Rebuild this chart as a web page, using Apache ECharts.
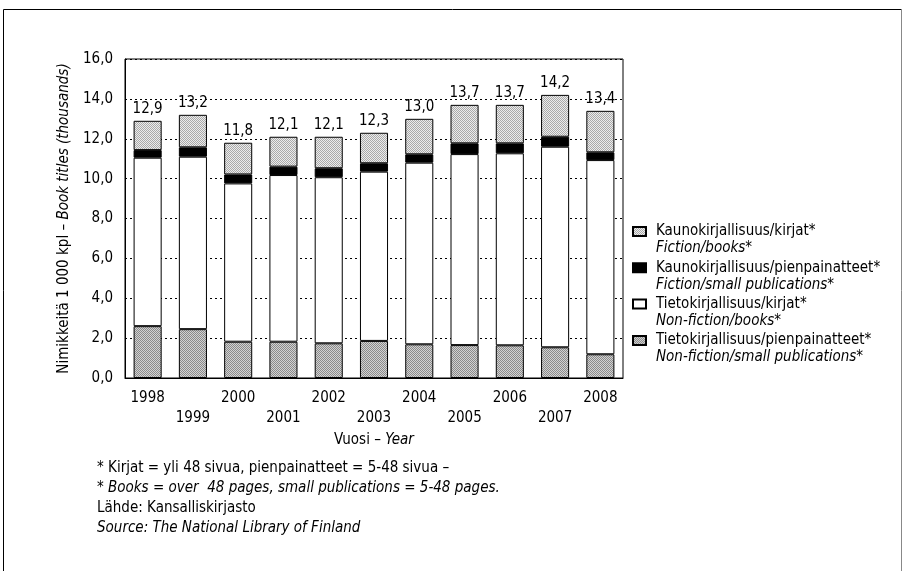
<!DOCTYPE html>
<html>
<head>
<meta charset="utf-8">
<script src="https://cdn.jsdelivr.net/npm/echarts@6/dist/echarts.min.js"></script>
<style>
  html, body { margin: 0; padding: 0; background: #fff; }
  #chart { width: 906px; height: 571px; }
</style>
</head>
<body>
<div id="chart"></div>
<script>
// Published book titles in Finland, thousands per year
const years = ['1998','1999','2000','2001','2002','2003','2004','2005','2006','2007','2008'];
const totals = [12.9, 13.2, 11.8, 12.1, 12.1, 12.3, 13.0, 13.7, 13.7, 14.2, 13.4];
const nonFictionSmall = [2.6, 2.45, 1.82, 1.82, 1.74, 1.86, 1.69, 1.65, 1.64, 1.54, 1.19];
const nonFictionBooks = [8.45, 8.65, 7.94, 8.36, 8.33, 8.49, 9.11, 9.58, 9.63, 10.06, 9.74];
const fictionSmall = [0.38, 0.47, 0.45, 0.42, 0.45, 0.42, 0.42, 0.54, 0.5, 0.5, 0.39];
// Fiction books fill the rest of each stated total
const fictionBooks = totals.map((t, i) =>
  +(t - nonFictionSmall[i] - nonFictionBooks[i] - fictionSmall[i]).toFixed(2));
const yTicks = { min: 0, max: 16, step: 2 };

const FONT = '"Liberation Sans Narrow", "DejaVu Sans Condensed", "Arial Narrow", sans-serif';
const fmt = v => v.toFixed(1).replace('.', ',');

// halftone-like fills
function stipple(a, b) {
  const c = document.createElement('canvas');
  c.width = 2; c.height = 2;
  const g = c.getContext('2d');
  g.fillStyle = a; g.fillRect(0, 0, 2, 2);
  g.fillStyle = b; g.fillRect(0, 0, 1, 1); g.fillRect(1, 1, 1, 1);
  return { image: c, repeat: 'repeat' };
}
const lightFill = stipple('#ececec', '#a9a9a9');
const darkFill = stipple('#d2d2d2', '#8a8a8a');

const names = [
  ['Tietokirjallisuus/pienpainatteet*', 'Non-fiction/small publications*'],
  ['Tietokirjallisuus/kirjat*', 'Non-fiction/books*'],
  ['Kaunokirjallisuus/pienpainatteet*', 'Fiction/small publications*'],
  ['Kaunokirjallisuus/kirjat*', 'Fiction/books*']
];
const fills = [darkFill, '#ffffff', '#000000', lightFill];
const values = [nonFictionSmall, nonFictionBooks, fictionSmall, fictionBooks];

const series = values.map((v, k) => ({
  name: names[k][0],
  type: 'bar',
  stack: 'titles',
  data: v,
  barCategoryGap: '38%',
  itemStyle: { color: fills[k], borderColor: '#000', borderWidth: 1 },
  emphasis: { disabled: true },
  label: k === 3 ? {
    show: true,
    position: 'top',
    distance: 4,
    formatter: p => fmt(totals[p.dataIndex]),
    fontFamily: FONT, fontSize: 15, color: '#000'
  } : { show: false }
}));

const english = {};
names.forEach(n => { english[n[0]] = n[1]; });

const chart = echarts.init(document.getElementById('chart'), null, { renderer: 'canvas' });
chart.setOption({
  animation: false,
  backgroundColor: '#fff',
  textStyle: { fontFamily: FONT, color: '#000' },
  grid: { left: 125, right: 283, top: 59, bottom: 193, show: true, borderColor: '#000', borderWidth: 1 },
  xAxis: {
    type: 'category',
    data: years,
    axisLine: { lineStyle: { color: '#000', width: 1 } },
    axisTick: { show: false },
    axisLabel: {
      interval: 0,
      margin: 10,
      fontFamily: FONT, fontSize: 15, color: '#000', lineHeight: 20,
      formatter: (v, i) => (i % 2 ? '\n' + v : v)
    },
    name: '{a|Vuosi – }{b|Year}',
    nameLocation: 'middle',
    nameGap: 52,
    nameTextStyle: {
      rich: {
        a: { fontFamily: FONT, fontSize: 15, color: '#000' },
        b: { fontFamily: FONT, fontSize: 15, color: '#000', fontStyle: 'italic' }
      }
    }
  },
  yAxis: {
    type: 'value',
    min: yTicks.min, max: yTicks.max, interval: yTicks.step,
    axisLine: { show: true, lineStyle: { color: '#000', width: 1 } },
    axisTick: { show: false },
    axisLabel: { margin: 12, fontFamily: FONT, fontSize: 15, color: '#000', formatter: v => fmt(v) },
    splitLine: { lineStyle: { color: '#000', width: 1, type: [2, 3] } },
    name: '{a|Nimikkeitä 1 000 kpl – }{b|Book titles (thousands)}',
    nameLocation: 'middle',
    nameRotate: 90,
    nameGap: 47,
    nameTextStyle: {
      rich: {
        a: { fontFamily: FONT, fontSize: 15, color: '#000' },
        b: { fontFamily: FONT, fontSize: 15, color: '#000', fontStyle: 'italic' }
      }
    }
  },
  legend: {
    orient: 'vertical',
    left: 627,
    top: 201,
    itemWidth: 13,
    itemHeight: 9,
    itemGap: -14.7,
    icon: 'rect',
    selectedMode: false,
    data: names.map(n => n[0]).reverse(),
    formatter: n => '\n{a|' + n + '}\n{b|' + english[n] + '}',
    textStyle: {
      fontFamily: FONT, fontSize: 15, color: '#000', lineHeight: 17,
      rich: {
        a: { fontFamily: FONT, fontSize: 15, color: '#000', lineHeight: 17, padding: [0, 0, 0, 5] },
        b: { fontFamily: FONT, fontSize: 15, color: '#000', lineHeight: 17, fontStyle: 'italic', padding: [0, 0, 0, 5] }
      }
    }
  },
  graphic: [
    {
      type: 'polyline', silent: true, z: -1,
      shape: { points: [[3.5, 575], [3.5, 9.5], [901.5, 9.5]] },
      style: { fill: 'none', stroke: '#000', lineWidth: 1 }
    },
    {
      type: 'line', silent: true, z: -1,
      shape: { x1: 901.5, y1: 9.5, x2: 901.5, y2: 575 },
      style: { stroke: '#888', lineWidth: 1 }
    },
    {
      type: 'text', left: 97, top: 461,
      style: {
        text: '{a|* Kirjat = yli 48 sivua, pienpainatteet = 5-48 sivua –}\n{b|* Books = over  48 pages, small publications = 5-48 pages.}\n{a|Lähde: Kansalliskirjasto}\n{b|Source: The National Library of Finland}',
        rich: {
          a: { fontFamily: FONT, fontSize: 15, lineHeight: 20, fill: '#000' },
          b: { fontFamily: FONT, fontSize: 15, lineHeight: 20, fill: '#000', fontStyle: 'italic' }
        }
      }
    }
  ],
  series: series
});
</script>
</body>
</html>
